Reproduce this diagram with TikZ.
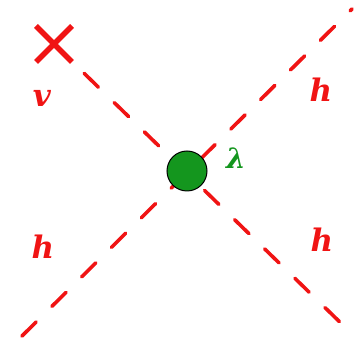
\documentclass[tikz,border=0pt]{standalone}
\usepackage{fontspec}
\newfontfamily\lblfont{DejaVu Serif}
\usetikzlibrary{calc}
\definecolor{lred}{RGB}{240,20,20}
\definecolor{lgreen}{RGB}{20,150,30}
\tikzset{
  prop/.style={draw=lred, line width=3.6pt, dash pattern=on 20pt off 22pt, line cap=round},
  vertex/.style={circle, draw=black, line width=1pt, fill=lgreen, minimum size=40pt, inner sep=0pt},
  crossmark/.style={draw=lred, line width=5.5pt},
  lbl/.style={text=lred, font=\lblfont\bfseries\itshape\fontsize{31}{36}\selectfont, inner sep=0pt},
  glbl/.style={text=lgreen, font=\lblfont\bfseries\itshape\fontsize{28}{34}\selectfont, inner sep=0pt}
}
\begin{document}
\begin{tikzpicture}[x=1pt,y=-1pt]
\useasboundingbox (0,0) rectangle (360,339);
\coordinate (vx) at (54,44);
\coordinate (br) at (347,329);
\coordinate (bl) at (22,336);
\coordinate (tr) at (352,9);
\draw[prop] (vx) -- (br);
\draw[prop] (bl) -- (tr);
\node[vertex] (c) at (187,171) {};
\draw[crossmark] ($(vx)+(-18,-18)$) -- ($(vx)+(18,18)$);
\draw[crossmark] ($(vx)+(-18,18)$) -- ($(vx)+(18,-18)$);
\node[lbl] (lv) at (42,98) {v};
\node[lbl] (h1) at (321,90) {h};
\node[lbl] (h2) at (43,247) {h};
\node[lbl] (h3) at (322,240) {h};
\node[glbl] (lam) at (236,158) {λ};
\end{tikzpicture}
\end{document}
